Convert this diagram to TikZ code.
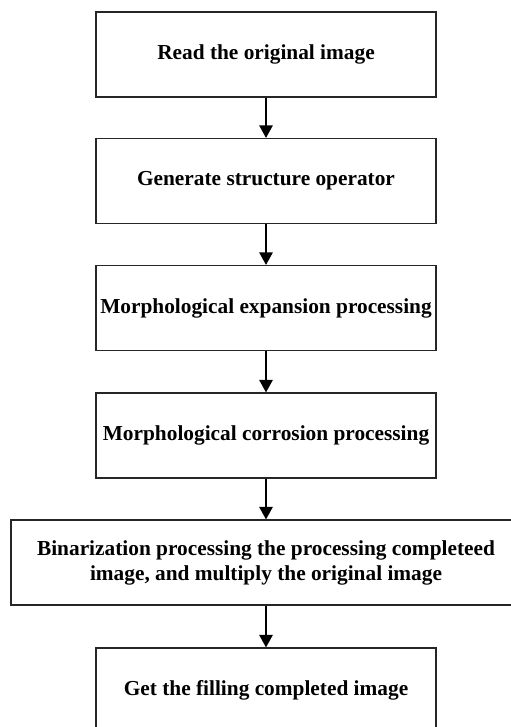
\documentclass[tikz,border=0pt]{standalone}
\usepackage{fontspec}
\setmainfont{Liberation Serif}
\usetikzlibrary{arrows.meta}
\begin{document}
\begin{tikzpicture}[x=0.75pt,y=-0.75pt,
  stepbox/.style={draw=black!85, line width=0.8pt, minimum width=255pt, minimum height=63.75pt,
    inner sep=0pt, align=center, font=\fontsize{16}{18.75}\selectfont\bfseries, fill=white},
  flow/.style={line width=1.6pt, -{Triangle[width=10pt,length=9.5pt]}}]
\useasboundingbox (0,0) rectangle (510,727);
\node[stepbox] (b1) at (266,54.5) {Read the original image};
\node[stepbox] (b2) at (266,181) {Generate structure operator};
\node[stepbox] (b3) at (266,308) {Morphological expansion processing};
\node[stepbox] (b4) at (266,435.5) {Morphological corrosion processing};
\node[stepbox, minimum width=382.5pt] (b5) at (266,562.5) {Binarization processing the processing completeed\\image, and multiply the original image};
\node[stepbox] (b6) at (266,690.5) {Get the filling completed image};
\draw[flow] (b1) -- (b2);
\draw[flow] (b2) -- (b3);
\draw[flow] (b3) -- (b4);
\draw[flow] (b4) -- (b5);
\draw[flow] (b5) -- (b6);
\end{tikzpicture}
\end{document}
